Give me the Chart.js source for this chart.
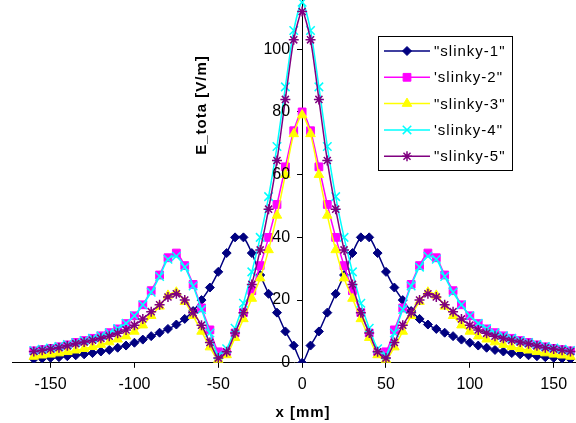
<!DOCTYPE html>
<html>
<head>
<meta charset="utf-8">
<script src="https://cdn.jsdelivr.net/npm/chart.js@4/dist/chart.umd.min.js"></script>
<style>
  html, body { margin: 0; padding: 0; background: #fff; overflow: hidden; }
  #wrap { width: 576px; height: 423px; position: relative; }
</style>
</head>
<body>
<div id="wrap"><canvas id="myChart"></canvas></div>
<script>
// x positions [mm]
const xMm = [-160, -155, -150, -145, -140, -135, -130, -125, -120, -115, -110, -105, -100, -95, -90, -85, -80, -75, -70, -65, -60, -55, -50, -45, -40, -35, -30, -25, -20, -15, -10, -5,
  0, 5, 10, 15, 20, 25, 30, 35, 40, 45, 50, 55, 60, 65, 70, 75, 80, 85, 90, 95, 100, 105, 110, 115, 120, 125, 130, 135, 140, 145, 150, 155, 160];

const slinky1 = [1.2, 1.4, 1.6, 1.8, 2.1, 2.4, 2.7, 3.1, 3.6, 4.1, 4.8, 5.5, 6.4, 7.4, 8.5, 9.6, 10.8, 12.2, 14, 16.5, 20, 24, 29, 35, 40, 40, 35, 28, 22, 16, 10, 5.5,
  0, 5.5, 10, 16, 22, 28, 35, 40, 40, 35, 29, 24, 20, 16.5, 14, 12.2, 10.8, 9.6, 8.5, 7.4, 6.4, 5.5, 4.8, 4.1, 3.6, 3.1, 2.7, 2.4, 2.1, 1.8, 1.6, 1.4, 1.2];
const slinky2 = [3.8, 4.2, 4.6, 5.1, 5.7, 6.5, 7.1, 7.8, 8.6, 9.6, 10.8, 12.5, 15, 18.5, 23, 28, 33.5, 35, 31, 25, 17.5, 10.5, 3.5, 3, 9.5, 16, 23, 31, 40, 50.5, 62.5, 74,
  80, 74, 62.5, 50.5, 40, 31, 23, 16, 9.5, 3, 3.5, 10.5, 17.5, 25, 31, 35, 33.5, 28, 23, 18.5, 15, 12.5, 10.8, 9.6, 8.6, 7.8, 7.1, 6.5, 5.7, 5.1, 4.6, 4.2, 3.8];
const slinky3 = [2, 2.4, 2.7, 3.1, 3.5, 4, 4.5, 5.1, 5.8, 6.6, 7.5, 8.5, 10, 12, 15, 18, 21.5, 22.5, 19.5, 15, 10, 5, 1, 2.5, 8, 14, 20.5, 27, 36, 47, 60, 73,
  79, 73, 60, 47, 36, 27, 20.5, 14, 8, 2.5, 1, 5, 10, 15, 19.5, 22.5, 21.5, 18, 15, 12, 10, 8.5, 7.5, 6.6, 5.8, 5.1, 4.5, 4, 3.5, 3.1, 2.7, 2.4, 2];
const slinky4 = [3.9, 4.3, 4.7, 5.2, 5.8, 6.5, 7.1, 7.8, 8.6, 9.6, 10.9, 12.6, 15, 18.5, 22.5, 27.5, 33, 34, 30.5, 24.5, 17, 9.5, 2.5, 4.5, 11, 19, 29, 40, 53, 69, 88, 106,
  115, 106, 88, 69, 53, 40, 29, 19, 11, 4.5, 2.5, 9.5, 17, 24.5, 30.5, 34, 33, 27.5, 22.5, 18.5, 15, 12.6, 10.9, 9.6, 8.6, 7.8, 7.1, 6.5, 5.8, 5.2, 4.7, 4.3, 3.9];
const slinky5 = [3.6, 4, 4.4, 4.8, 5.4, 6.1, 6.6, 7.2, 7.8, 8.5, 9.4, 10.5, 12, 14, 16.3, 18.5, 21, 22, 20, 16, 12, 6.5, 1.5, 3.5, 9.5, 16, 25, 36, 49, 64.5, 84, 103,
  112, 103, 84, 64.5, 49, 36, 25, 16, 9.5, 3.5, 1.5, 6.5, 12, 16, 20, 22, 21, 18.5, 16.3, 14, 12, 10.5, 9.4, 8.5, 7.8, 7.2, 6.6, 6.1, 5.4, 4.8, 4.4, 4, 3.6];

const seriesNames = ['"slinky-1"', '\'slinky-2"', '"slinky-3"', '\'slinky-4"', '"slinky-5"'];
const xTicks = [-150, -100, -50, 0, 50, 100, 150];
const yTicks = [0, 20, 40, 60, 80, 100];

const FONT = 'Arial, "Liberation Sans", sans-serif';
Chart.defaults.font.family = FONT;
Chart.defaults.color = '#000';

function pts(vals) {
    return xMm.map((x, i) => ({x: x, y: vals[i]}));
}

function serie(label, vals, color, style, radius, bw, order) {
    return {
        label: label,
        data: pts(vals),
        borderColor: color,
        backgroundColor: color,
        borderWidth: 1.5,
        pointStyle: style,
        pointRadius: radius,
        pointBackgroundColor: color,
        pointBorderColor: color,
        pointBorderWidth: bw,
        tension: 0.25,
        order: order
    };
}

function noPad(s) {
    s.paddingLeft = 0; s.paddingRight = 0; s.paddingTop = 0; s.paddingBottom = 0;
}

// legend inside the plot, y tick labels and axis titles, drawn by hand
const extras = {
    id: 'extras',
    afterDraw(chart) {
        const ctx = chart.ctx;
        const ys = chart.scales.y;
        const xs = chart.scales.x;
        ctx.save();
        // y tick labels left of the centred axis
        ctx.fillStyle = '#000';
        ctx.font = '16px ' + FONT;
        ctx.textAlign = 'right';
        ctx.textBaseline = 'middle';
        const ax = xs.getPixelForValue(0);
        yTicks.forEach(v => {
            ctx.fillText(String(v), ax - 12, ys.getPixelForValue(v));
        });

        ctx.fillStyle = '#fff';
        ctx.fillRect(378.5, 36.5, 134, 134);
        ctx.strokeStyle = '#000';
        ctx.lineWidth = 1;
        ctx.strokeRect(378.5, 36.5, 134, 134);
        chart.data.datasets.forEach((ds, i) => {
            const y = 51 + i * 26.3;
            ctx.strokeStyle = ds.borderColor;
            ctx.lineWidth = 1.5;
            ctx.beginPath();
            ctx.moveTo(384, y);
            ctx.lineTo(430, y);
            ctx.stroke();
            ctx.fillStyle = ds.pointBackgroundColor;
            ctx.strokeStyle = ds.pointBorderColor;
            ctx.lineWidth = ds.pointBorderWidth;
            Chart.helpers.drawPoint(ctx, {pointStyle: ds.pointStyle, radius: ds.pointRadius, borderWidth: ds.pointBorderWidth, rotation: 0}, 407, y);
            ctx.fillStyle = '#000';
            ctx.font = '15px ' + FONT;
            ctx.letterSpacing = '1px';
            ctx.textAlign = 'left';
            ctx.textBaseline = 'middle';
            ctx.fillText(ds.label, 434, y + 1);
        });
        // axis titles
        ctx.fillStyle = '#000';
        ctx.font = 'bold 15px ' + FONT;
        ctx.letterSpacing = '1px';
        ctx.textAlign = 'center';
        ctx.textBaseline = 'middle';
        ctx.fillText('x [mm]', 303, 413);
        ctx.translate(202, 105);
        ctx.rotate(-Math.PI / 2);
        ctx.fillText('E_tota [V/m]', 0, 0);
        ctx.restore();
    }
};

const ctx = document.getElementById('myChart');
const myChart = new Chart(ctx, {
    type: 'line',
    data: {
        datasets: [
            serie(seriesNames[0], slinky1, '#000080', 'rectRot', 4.5, 1, 0),
            serie(seriesNames[1], slinky2, '#FF00FF', 'rect', 5.5, 1, -1),
            serie(seriesNames[2], slinky3, '#FFFF00', 'triangle', 5.5, 1, -2),
            serie(seriesNames[3], slinky4, '#00FFFF', 'crossRot', 6, 1.5, -3),
            serie(seriesNames[4], slinky5, '#800080', 'star', 5, 1.5, -4)
        ]
    },
    options: {
        animation: false,
        responsive: true,
        maintainAspectRatio: false,
        layout: { autoPadding: false, padding: { left: 12, right: 0, top: 0, bottom: 22 } },
        plugins: {
            legend: { display: false },
            tooltip: { enabled: false }
        },
        scales: {
            x: {
                type: 'linear',
                min: -173,
                max: 163.3,
                afterBuildTicks: s => { s.ticks = xTicks.map(v => ({value: v})); },
                afterFit: noPad,
                grid: { drawOnChartArea: false, drawTicks: true, tickLength: 5, color: '#000' },
                border: { color: '#000', width: 1 },
                ticks: { color: '#000', font: { size: 16 }, padding: 7, maxRotation: 0 }
            },
            y: {
                type: 'linear',
                position: { x: 0 },
                min: 0,
                max: 115.7,
                afterBuildTicks: s => { s.ticks = yTicks.map(v => ({value: v})); },
                afterFit: noPad,
                grid: { drawOnChartArea: false, drawTicks: true, tickLength: 5, color: '#000' },
                border: { color: '#000', width: 1 },
                ticks: { display: false }
            }
        }
    },
    plugins: [extras]
});
</script>
</body>
</html>
